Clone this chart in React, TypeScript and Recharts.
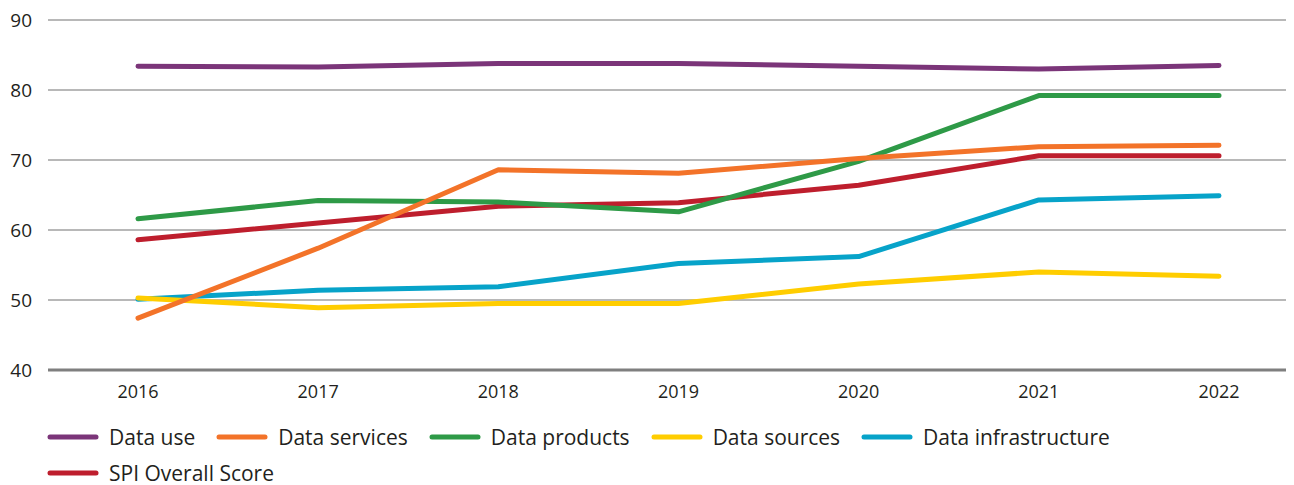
import { LineChart, Line, XAxis, YAxis, CartesianGrid, Legend } from 'recharts';

const years = ['2016', '2017', '2018', '2019', '2020', '2021', '2022'];
const yTicks = [40, 50, 60, 70, 80, 90];

const dataUse = [83.4, 83.3, 83.8, 83.8, 83.4, 83.0, 83.5];
const dataServices = [47.4, 57.4, 68.6, 68.1, 70.2, 71.9, 72.1];
const dataProducts = [61.6, 64.2, 64.0, 62.6, 69.8, 79.2, 79.2];
const dataSources = [50.3, 48.9, 49.5, 49.5, 52.3, 54.0, 53.4];
const dataInfrastructure = [50.1, 51.4, 51.9, 55.2, 56.2, 64.3, 64.9];
const spiOverall = [58.6, 61.0, 63.4, 63.9, 66.4, 70.6, 70.6];

// legend order
const series = [
  { key: 'use', name: 'Data use', color: '#7b3579' },
  { key: 'services', name: 'Data services', color: '#f37329' },
  { key: 'products', name: 'Data products', color: '#2e9a47' },
  { key: 'sources', name: 'Data sources', color: '#ffcd00' },
  { key: 'infra', name: 'Data infrastructure', color: '#07a3c9' },
  { key: 'spi', name: 'SPI Overall Score', color: '#be1e2d' },
];

// which line sits on top of which
const drawOrder = ['spi', 'infra', 'sources', 'products', 'services', 'use'];

const chartData = years.map((year, i) => ({
  year,
  use: dataUse[i],
  services: dataServices[i],
  products: dataProducts[i],
  sources: dataSources[i],
  infra: dataInfrastructure[i],
  spi: spiOverall[i],
}));

const textColor = '#231f20';

function LegendItem({ name, color }: { name: string; color: string }) {
  return (
    <div style={{ display: 'flex', alignItems: 'center', marginRight: 21 }}>
      <svg width={52} height={8} style={{ display: 'block' }}>
        <line x1={3} y1={4} x2={49} y2={4} stroke={color} strokeWidth={5} strokeLinecap="round" />
      </svg>
      <span style={{ marginLeft: 10, fontSize: 21, color: textColor, lineHeight: '36px' }}>{name}</span>
    </div>
  );
}

function ChartLegend() {
  const rows = [series.slice(0, 5), series.slice(5)];
  return (
    <div style={{ height: 80, paddingTop: 14, paddingLeft: 39, boxSizing: 'border-box' }}>
      {rows.map((row, r) => (
        <div key={r} style={{ display: 'flex', height: 36, alignItems: 'center' }}>
          {row.map((s) => (
            <LegendItem key={s.key} name={s.name} color={s.color} />
          ))}
        </div>
      ))}
    </div>
  );
}

export default function App() {
  return (
    <div style={{ fontFamily: '"Open Sans", "Noto Sans", sans-serif', marginTop: -6 }}>
      <LineChart
        width={1286}
        height={483}
        data={chartData}
        margin={{ top: 18, right: 0, bottom: 0, left: 0 }}
      >
        <CartesianGrid horizontal vertical={false} stroke="#a0a0a0" strokeWidth={1.5} />
        <XAxis
          dataKey="year"
          height={35}
          padding={{ left: 90, right: 75 }}
          tickLine={false}
          tickSize={0}
          tickMargin={15}
          axisLine={{ stroke: '#7f7f7f', strokeWidth: 3 }}
          tick={{ fill: textColor, fontSize: 18 }}
        />
        <YAxis
          domain={[40, 90]}
          ticks={yTicks}
          width={40}
          axisLine={false}
          tickLine={false}
          tickSize={0}
          tickMargin={16}
          tick={{ fill: textColor, fontSize: 19 }}
        />
        <Legend verticalAlign="bottom" content={() => <ChartLegend />} />
        {drawOrder.map((k) => {
          const s = series.find((x) => x.key === k)!;
          return (
            <Line
              key={s.key}
              type="linear"
              dataKey={s.key}
              name={s.name}
              stroke={s.color}
              strokeWidth={5}
              strokeLinecap="round"
              strokeLinejoin="round"
              dot={false}
              activeDot={false}
              isAnimationActive={false}
            />
          );
        })}
      </LineChart>
    </div>
  );
}
